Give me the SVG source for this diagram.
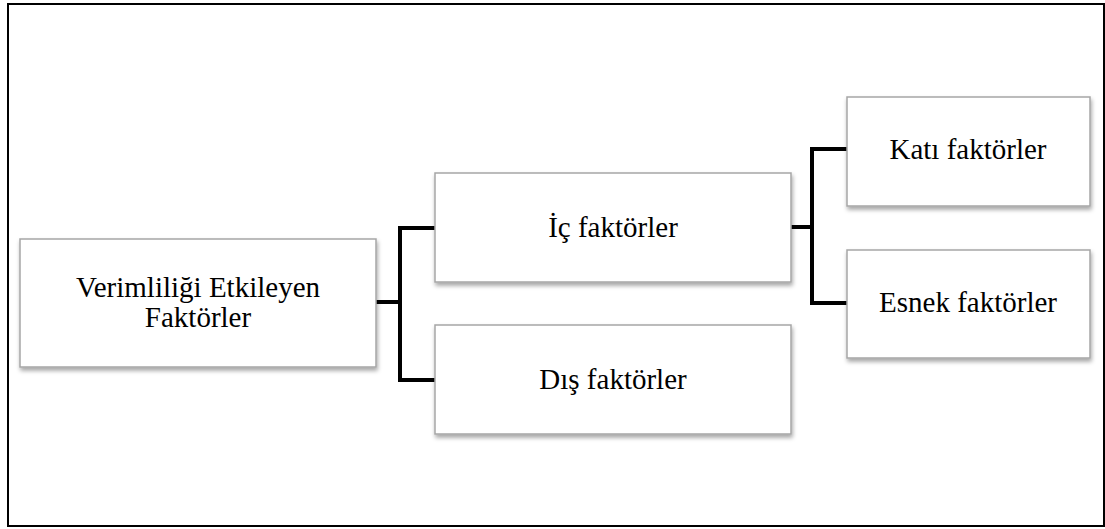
<svg xmlns="http://www.w3.org/2000/svg" width="1105" height="529" viewBox="0 0 1105 529">
<style>
.box{fill:#fff;stroke:#a6a6a6;stroke-width:1.5;filter:url(#sh)}
.lbl{font-family:"Liberation Serif","Times New Roman",serif;font-size:29px;fill:#000;text-anchor:middle}
.con{fill:none;stroke:#000;stroke-width:4;stroke-linejoin:miter}
</style>
<defs>
<filter id="sh" x="-10%" y="-10%" width="120%" height="130%">
<feDropShadow dx="1" dy="3" stdDeviation="2" flood-color="#000" flood-opacity="0.35"/>
</filter>
</defs>
<rect x="0" y="0" width="1105" height="529" fill="#fff"/>
<rect x="8" y="4" width="1096" height="522" fill="none" stroke="#000" stroke-width="2"/>
<g id="connectors">
<path class="con" d="M376 302H400M435 228H400V380H435"/>
<path class="con" d="M791 227H812M847 149H812V303H847"/>
</g>
<g id="n-root">
<rect class="box" x="20" y="239" width="356" height="128"/>
<text class="lbl" x="198" y="297">Verimliliği Etkileyen</text>
<text class="lbl" x="198" y="327">Faktörler</text>
</g>
<g id="n-ic">
<rect class="box" x="435" y="173" width="356" height="109"/>
<text class="lbl" x="613" y="237">İç faktörler</text>
</g>
<g id="n-dis">
<rect class="box" x="435" y="325" width="356" height="109"/>
<text class="lbl" x="613" y="389">Dış faktörler</text>
</g>
<g id="n-kati">
<rect class="box" x="847" y="97" width="243" height="109"/>
<text class="lbl" x="968" y="159">Katı faktörler</text>
</g>
<g id="n-esnek">
<rect class="box" x="847" y="250" width="243" height="108"/>
<text class="lbl" x="968" y="312">Esnek faktörler</text>
</g>
</svg>
